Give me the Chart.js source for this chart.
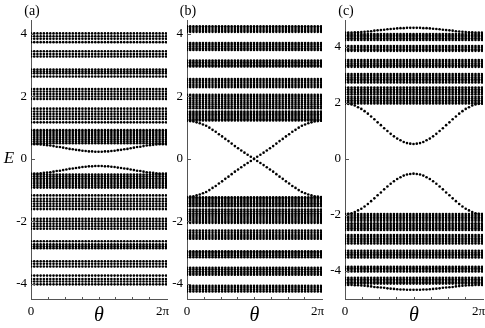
<!DOCTYPE html>
<html>
<head>
<meta charset="utf-8">
<title>Spectra vs theta</title>
<script src="https://cdn.jsdelivr.net/npm/chart.js@4.4.1/dist/chart.umd.min.js"></script>
<style>
  body { margin: 0; background: #fff; }
  #wrap { position: relative; width: 485px; height: 328px; overflow: hidden; }
  canvas { position: absolute; top: 0; }
</style>
</head>
<body>
<div id="wrap">
  <canvas id="panelA" width="172" height="328" style="left:0px"></canvas>
  <canvas id="panelB" width="158" height="328" style="left:168px"></canvas>
  <canvas id="panelC" width="159" height="328" style="left:326px"></canvas>
</div>
<script>
// theta samples (index 0 = 0, last index = 2pi)
const thetaIndex = [0,1,2,3,4,5,6,7,8,9,10,11,12,13,14,15,16,17,18,19,20,21,22,23,24,25,26,27,28,29,30,31,32,33,34,35,36,37,38,39,40,41,42];
const thetaLabels = ['0', '2π'];
const energyTicks = [-4, -2, 0, 2, 4];

// (a) flat bulk levels
const levelsA = [
  4.02, 3.93, 3.85, 3.74,
  3.45, 3.36, 3.28,
  2.86, 2.80, 2.74, 2.64,
  2.24, 2.16, 2.08, 2.00, 1.92,
  1.61, 1.52, 1.44, 1.36, 1.28, 1.17,
  0.92, 0.86, 0.80, 0.74, 0.68, 0.62, 0.56, 0.50,
  -0.50, -0.56, -0.62, -0.68, -0.74, -0.80, -0.86, -0.92,
  -1.17, -1.28, -1.36, -1.44, -1.52, -1.61,
  -1.92, -2.00, -2.08, -2.16, -2.24,
  -2.64, -2.74, -2.80, -2.86,
  -3.28, -3.36, -3.45,
  -3.74, -3.85, -3.93, -4.02
];
// (a) in-gap states
const edgeAUp = [0.47,0.47,0.47,0.46,0.45,0.44,0.43,0.41,0.39,0.38,0.36,0.34,0.32,0.31,0.29,0.28,0.26,0.25,0.24,0.24,0.23,0.23,0.23,0.24,0.24,0.25,0.26,0.28,0.29,0.31,0.32,0.34,0.36,0.38,0.39,0.41,0.43,0.44,0.45,0.46,0.47,0.47,0.47];
const edgeADown = [-0.47,-0.47,-0.47,-0.46,-0.45,-0.44,-0.43,-0.41,-0.39,-0.38,-0.36,-0.34,-0.32,-0.31,-0.29,-0.28,-0.26,-0.25,-0.24,-0.24,-0.23,-0.23,-0.23,-0.24,-0.24,-0.25,-0.26,-0.28,-0.29,-0.31,-0.32,-0.34,-0.36,-0.38,-0.39,-0.41,-0.43,-0.44,-0.45,-0.46,-0.47,-0.47,-0.47];

// (b) flat bulk levels
const levelsB = [
  4.25, 4.19, 4.13, 4.07,
  3.71, 3.66, 3.60, 3.54, 3.49,
  3.15, 3.10, 3.05, 3.00, 2.96,
  2.56, 2.50, 2.44, 2.37, 2.30,
  2.05, 1.99, 1.93, 1.86, 1.80, 1.74, 1.68, 1.62,
  1.52, 1.47, 1.42, 1.37, 1.32, 1.27, 1.23,
  -1.23, -1.27, -1.32, -1.37, -1.42, -1.47, -1.52,
  -1.62, -1.68, -1.74, -1.80, -1.86, -1.93, -1.99, -2.05,
  -2.30, -2.37, -2.44, -2.50, -2.56,
  -2.96, -3.00, -3.05, -3.10, -3.15,
  -3.49, -3.54, -3.60, -3.66, -3.71,
  -4.07, -4.13, -4.19, -4.25
];
// (b) crossing states
const edgeBFall = [1.22,1.21,1.20,1.17,1.14,1.10,1.06,1.00,0.93,0.87,0.79,0.72,0.64,0.57,0.49,0.41,0.34,0.27,0.20,0.13,0.07,0.00,-0.07,-0.13,-0.20,-0.27,-0.34,-0.41,-0.49,-0.57,-0.64,-0.72,-0.79,-0.87,-0.93,-1.00,-1.06,-1.10,-1.14,-1.17,-1.20,-1.21,-1.22];
const edgeBRise = [-1.22,-1.21,-1.20,-1.17,-1.14,-1.10,-1.06,-1.00,-0.93,-0.87,-0.79,-0.72,-0.64,-0.57,-0.49,-0.41,-0.34,-0.27,-0.20,-0.13,-0.07,0.00,0.07,0.13,0.20,0.27,0.34,0.41,0.49,0.57,0.64,0.72,0.79,0.87,0.93,1.00,1.06,1.10,1.14,1.17,1.20,1.21,1.22];

// (c) flat bulk levels
const levelsC = [
  4.45, 4.40, 4.35, 4.30, 4.24,
  4.02, 3.96, 3.90, 3.85,
  3.52, 3.46, 3.40, 3.34, 3.28,
  3.02, 2.96, 2.90, 2.84, 2.78, 2.72,
  2.54, 2.48, 2.42, 2.36, 2.30,
  2.21, 2.15, 2.09, 2.03, 1.97,
  -1.97, -2.03, -2.09, -2.15, -2.21,
  -2.30, -2.36, -2.42, -2.48, -2.54,
  -2.72, -2.78, -2.84, -2.90, -2.96, -3.02,
  -3.28, -3.34, -3.40, -3.46, -3.52,
  -3.85, -3.90, -3.96, -4.02,
  -4.24, -4.30, -4.35, -4.40, -4.45
];
// (c) band edges and in-gap states
const topC = [4.50,4.50,4.50,4.51,4.51,4.52,4.53,4.54,4.55,4.57,4.58,4.59,4.60,4.62,4.63,4.64,4.65,4.66,4.66,4.67,4.67,4.67,4.67,4.67,4.66,4.66,4.65,4.64,4.63,4.62,4.60,4.59,4.58,4.57,4.55,4.54,4.53,4.52,4.51,4.51,4.50,4.50,4.50];
const bottomC = [-4.50,-4.50,-4.50,-4.51,-4.51,-4.52,-4.53,-4.54,-4.55,-4.57,-4.58,-4.59,-4.60,-4.62,-4.63,-4.64,-4.65,-4.66,-4.66,-4.67,-4.67,-4.67,-4.67,-4.67,-4.66,-4.66,-4.65,-4.64,-4.63,-4.62,-4.60,-4.59,-4.58,-4.57,-4.55,-4.54,-4.53,-4.52,-4.51,-4.51,-4.50,-4.50,-4.50];
const edgeCUp = [1.97,1.96,1.94,1.90,1.84,1.78,1.70,1.61,1.51,1.41,1.30,1.20,1.09,0.99,0.89,0.80,0.72,0.66,0.60,0.56,0.54,0.53,0.54,0.56,0.60,0.66,0.72,0.80,0.89,0.99,1.09,1.20,1.30,1.41,1.51,1.61,1.70,1.78,1.84,1.90,1.94,1.96,1.97];
const edgeCDown = [-1.97,-1.96,-1.94,-1.90,-1.84,-1.78,-1.70,-1.61,-1.51,-1.41,-1.30,-1.20,-1.09,-0.99,-0.89,-0.80,-0.72,-0.66,-0.60,-0.56,-0.54,-0.53,-0.54,-0.56,-0.60,-0.66,-0.72,-0.80,-0.89,-0.99,-1.09,-1.20,-1.30,-1.41,-1.51,-1.61,-1.70,-1.78,-1.84,-1.90,-1.94,-1.96,-1.97];

// ---------------------------------------------------------------

// flat levels are the same energy at every theta sample
function buildPoints(levels, curves) {
    const pts = [];
    levels.forEach(e => {
        thetaIndex.forEach(i => pts.push({ x: i, y: e }));
    });
    curves.forEach(c => {
        c.forEach((e, k) => pts.push({ x: thetaIndex[k], y: e }));
    });
    return pts;
}

// axis labels, panel tag, theta tick labels and inward tick marks
const decor = {
    id: 'decor',
    afterDraw(chart, args, opts) {
        const { ctx, chartArea: a, scales: { x, y } } = chart;
        ctx.save();
        ctx.fillStyle = '#000';
        ctx.strokeStyle = '#555';
        ctx.lineWidth = 1;

        // tick marks pointing into the plot
        energyTicks.forEach(v => {
            const py = Math.round(y.getPixelForValue(v)) + 0.5;
            ctx.beginPath();
            ctx.moveTo(a.left, py);
            ctx.lineTo(a.left + 4, py);
            ctx.stroke();
        });
        const first = x.getPixelForValue(thetaIndex[0]);
        const last = x.getPixelForValue(thetaIndex[thetaIndex.length - 1]);
        for (let k = 1; k < 8; k++) {
            const px = Math.round(first + (last - first) * k / 8) + 0.5;
            ctx.beginPath();
            ctx.moveTo(px, a.bottom);
            ctx.lineTo(px, a.bottom - 2);
            ctx.stroke();
        }

        ctx.font = '13px "Liberation Serif"';
        ctx.textBaseline = 'top';
        ctx.textAlign = 'center';
        ctx.fillText(thetaLabels[0], first, a.bottom + 6);
        ctx.textAlign = 'right';
        ctx.fillText(thetaLabels[1], last + 3, a.bottom + 6);

        ctx.textAlign = 'center';
        ctx.textBaseline = 'middle';
        ctx.font = 'italic 20px "Liberation Serif"';
        ctx.fillText('θ', (a.left + a.right) / 2, 316);

        ctx.font = '14px "Liberation Serif"';
        ctx.fillText(opts.tag, a.left + 1, 11);

        if (opts.showE) {
            ctx.font = 'italic 17px "Liberation Serif"';
            ctx.fillText('E', 9, y.getPixelForValue(0));
        }
        ctx.restore();
    }
};

function makePanel(id, points, tag, yMin, yMax, leftW, rightPad, showE) {
    const el = document.getElementById(id);
    return new Chart(el.getContext('2d'), {
        type: 'scatter',
        data: {
            datasets: [{
                data: points,
                pointRadius: 1.3,
                pointHoverRadius: 1.3,
                pointBackgroundColor: '#000',
                pointBorderWidth: 0,
                showLine: false
            }]
        },
        options: {
            responsive: false,
            animation: false,
            events: [],
            layout: { padding: { left: 0, right: rightPad, top: 20, bottom: 0 } },
            plugins: {
                legend: { display: false },
                tooltip: { enabled: false },
                decor: { tag: tag, showE: showE }
            },
            scales: {
                x: {
                    type: 'linear',
                    min: 0,
                    max: thetaIndex[thetaIndex.length - 1] + 0.3,
                    grid: { display: false, drawTicks: false },
                    border: { display: true, color: '#555', width: 1 },
                    ticks: { display: false },
                    afterFit: s => { s.height = 29; }
                },
                y: {
                    type: 'linear',
                    min: yMin,
                    max: yMax,
                    grid: { display: false, drawTicks: false },
                    border: { display: true, color: '#555', width: 1 },
                    afterBuildTicks: s => { s.ticks = energyTicks.map(v => ({ value: v })); },
                    ticks: {
                        color: '#000',
                        padding: 4,
                        font: { family: 'Liberation Serif', size: 13 }
                    },
                    afterFit: s => { s.width = leftW; }
                }
            }
        },
        plugins: [decor]
    });
}

makePanel('panelA', buildPoints(levelsA, [edgeAUp, edgeADown]), '(a)', -4.49, 4.45, 31, 5, true);
makePanel('panelB', buildPoints(levelsB, [edgeBFall, edgeBRise]), '(b)', -4.49, 4.45, 19, 4, false);
makePanel('panelC', buildPoints(levelsC, [topC, bottomC, edgeCUp, edgeCDown]), '(c)', -5.0, 4.95, 19, 2, false);
</script>
</body>
</html>
